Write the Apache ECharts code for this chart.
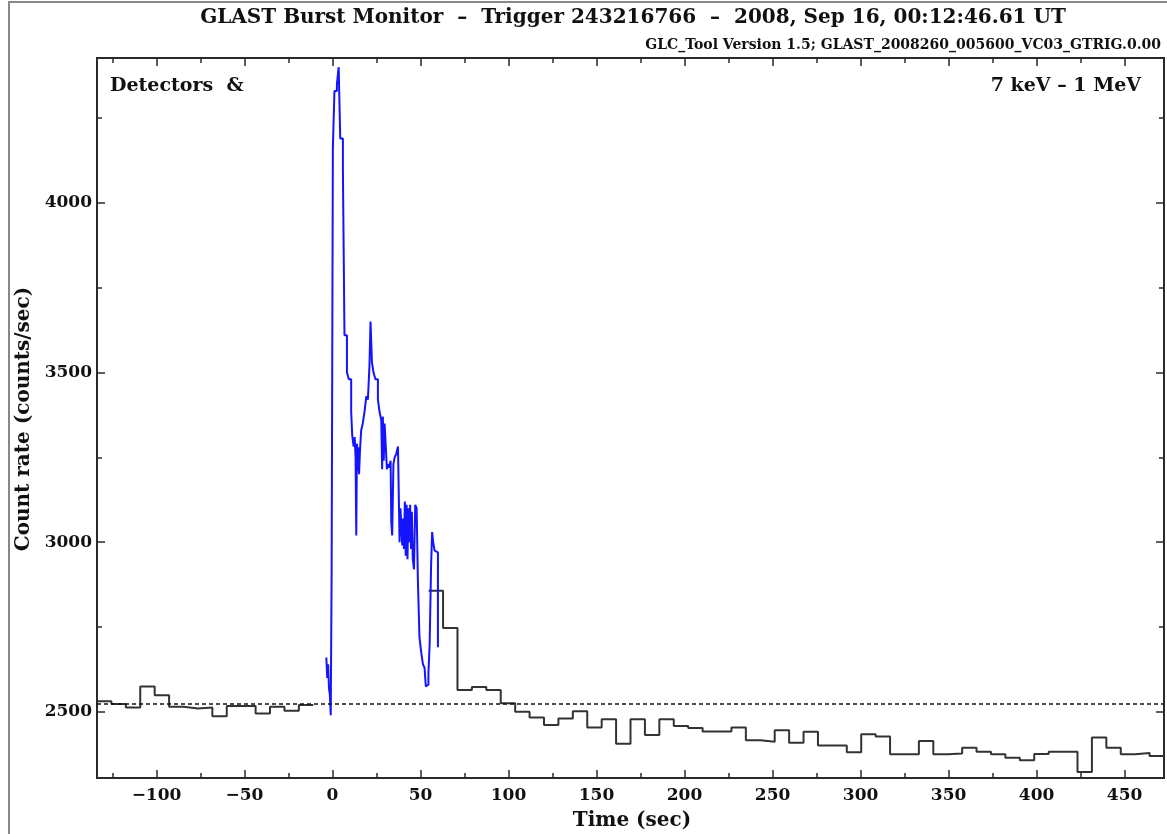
<!DOCTYPE html>
<html>
<head>
<meta charset="utf-8">
<script src="https://cdn.jsdelivr.net/npm/echarts@6/dist/echarts.min.js"></script>
<style>
html,body{margin:0;padding:0;background:#fff;}
#chart{width:1167px;height:834px;}
</style>
</head>
<body>
<div id="chart"></div>
<script>
// ---------------- data ----------------
const titleText = 'GLAST Burst Monitor  \u2013  Trigger 243216766  \u2013  2008, Sep 16, 00:12:46.61 UT';
const subtitleText = 'GLC_Tool Version 1.5; GLAST_2008260_005600_VC03_GTRIG.0.00';
const detectorsText = 'Detectors  &';
const energyText = '7 keV \u2013 1 MeV';
const xAxisName = 'Time (sec)';
const yAxisName = 'Count rate (counts/sec)';

const xMin = -133.8, xMax = 472.4;
const yMin = 2305, yMax = 4427;
const xMajorTicks = [-100, -50, 0, 50, 100, 150, 200, 250, 300, 350, 400, 450];
const xMinorTicks = [-125, -75, -25, 25, 75, 125, 175, 225, 275, 325, 375, 425];
const yMajorTicks = [2500, 3000, 3500, 4000];
const yMinorTicks = [2750, 3250, 3750, 4250];

const backgroundLevel = 2523;

// background-binned histogram (bin edges start / width)
const binStart = -133.8;
const binWidth = 8.192;
const preBurstRates = [2531, 2523, 2513, 2575, 2549, 2515, 2510, 2513, 2487, 2517, 2517, 2495, 2515, 2503, 2520];
const postBurstFirstBin = 23;
const postBurstRates = [2857, 2747, 2564, 2573, 2564, 2525, 2500, 2483, 2461, 2480, 2502, 2454, 2478, 2406, 2478, 2432,
  2478, 2458, 2452, 2442, 2442, 2454, 2416, 2412, 2446, 2409, 2441, 2401, 2401, 2381, 2434, 2427, 2375, 2375, 2414,
  2375, 2377, 2394, 2382, 2375, 2365, 2357, 2376, 2382, 2382, 2323, 2424, 2394, 2375, 2379, 2370];

// fine-resolution burst light curve (blue)
const burstTimes = [-3.5, -3.0, -2.5, -2.0, -1.5, -1.0, -0.5, 0.2, 1.1, 2.5, 3.5, 4.4, 5.9, 6.8, 8.2, 9.3, 10.6, 11.2, 12.0,
  12.6, 13.1, 13.5, 13.9, 14.3, 14.7, 15.1, 15.6, 16.3, 17.2, 18.2, 19.2, 20.1, 21.0, 21.6, 22.4, 23.3, 24.4, 25.8, 26.7,
  27.7, 28.2, 28.6, 29.1, 29.6, 30.1, 30.9, 31.4, 32.2, 33.0, 33.4, 33.9, 34.6, 35.3, 36.2, 37.2, 38.1, 38.6, 39.1, 39.6,
  40.1, 40.6, 41.1, 41.6, 42.1, 42.6, 43.1, 43.6, 44.1, 44.6, 45.1, 45.6, 46.3, 47.0, 47.8, 48.5, 49.4, 50.4, 51.4, 52.3,
  53.0, 53.8, 54.5, 55.2, 56.0, 56.6, 57.2, 58.0, 58.9, 59.9, 60.3];
const burstRates = [2660, 2600, 2640, 2570, 2550, 2490, 2910, 4160, 4330, 4350, 4400, 4190, 4100, 3610, 3500, 3480, 3385, 3315, 3282,
  3310, 3250, 3020, 3290, 3210, 3280, 3200, 3270, 3330, 3350, 3385, 3430, 3420, 3520, 3650, 3530, 3500, 3480, 3420, 3385,
  3360, 3215, 3370, 3240, 3350, 3300, 3215, 3230, 3220, 3240, 3060, 3020, 3230, 3250, 3260, 3282, 3000, 3100, 3050, 2990,
  3070, 2980, 3120, 2960, 3110, 2950, 3100, 3000, 3110, 2980, 3090, 2950, 2920, 3110, 3100, 2890, 2720, 2675, 2640, 2630,
  2575, 2580, 2615, 2700, 2930, 3030, 3000, 2975, 2970, 2690, 2690];

// ---------------- build series data ----------------
function histogram(firstBin, rates) {
  const pts = rates.map((r, i) => [binStart + (firstBin + i) * binWidth, r]);
  pts.push([binStart + (firstBin + rates.length) * binWidth, rates[rates.length - 1]]);
  return pts;
}
const preData = histogram(0, preBurstRates);
const postData = histogram(postBurstFirstBin, postBurstRates);
const burstData = burstTimes.map((t, i) => [t, burstRates[i]]);

const FONT = '"DejaVu Serif", "Liberation Serif", serif';
const AX = '#2a2a2a';
const fmtPlain = v => String(v).replace('-', '\u2212');

function xAx(position, values, len, labels) {
  return {
    type: 'value', position: position, min: xMin, max: xMax,
    axisLine: {show: true, onZero: false, lineStyle: {color: AX, width: 2}},
    axisTick: {show: true, inside: true, length: len, customValues: values, lineStyle: {color: AX, width: 1.5}},
    axisLabel: labels ? {show: true, customValues: values, formatter: fmtPlain, color: '#111',
      fontFamily: FONT, fontWeight: 'bold', fontSize: 17, margin: 9} : {show: false},
    splitLine: {show: false}
  };
}
function yAx(position, values, len, labels) {
  return {
    type: 'value', position: position, min: yMin, max: yMax,
    axisLine: {show: true, onZero: false, lineStyle: {color: AX, width: 2}},
    axisTick: {show: true, inside: true, length: len, customValues: values, lineStyle: {color: AX, width: 1.5}},
    axisLabel: labels ? {show: true, customValues: values, formatter: fmtPlain, color: '#111',
      fontFamily: FONT, fontWeight: 'bold', fontSize: 17, margin: 5} : {show: false},
    splitLine: {show: false}
  };
}

const chart = echarts.init(document.getElementById('chart'), null, {renderer: 'canvas'});
chart.setOption({
  animation: false,
  backgroundColor: '#fff',
  grid: {left: 97, right: 3, top: 58, bottom: 56, containLabel: false},
  xAxis: [
    xAx('bottom', xMajorTicks, 8, true),
    xAx('bottom', xMinorTicks, 5, false),
    xAx('top', xMajorTicks, 8, false),
    xAx('top', xMinorTicks, 5, false)
  ],
  yAxis: [
    yAx('left', yMajorTicks, 8, true),
    yAx('left', yMinorTicks, 5, false),
    yAx('right', yMajorTicks, 8, false),
    yAx('right', yMinorTicks, 5, false)
  ],
  series: [
    {
      type: 'line', step: 'end', data: preData, showSymbol: false, clip: true,
      lineStyle: {color: '#333', width: 2}, itemStyle: {color: '#333'},
      markLine: {
        silent: true, symbol: 'none', label: {show: false},
        lineStyle: {color: '#111', width: 1.5, type: [4, 3]},
        data: [{yAxis: backgroundLevel}]
      }
    },
    {
      type: 'line', step: 'end', data: postData, showSymbol: false, clip: true,
      lineStyle: {color: '#333', width: 2}, itemStyle: {color: '#333'}
    },
    {
      type: 'line', step: 'end', data: burstData, showSymbol: false, clip: true,
      lineStyle: {color: '#1414ff', width: 2}, itemStyle: {color: '#1414ff'}
    }
  ],
  graphic: [
    {type: 'rect', shape: {x: 9, y: 2, width: 1170, height: 840}, style: {fill: 'none', stroke: '#888', lineWidth: 2}, silent: true},
    {type: 'text', x: 633, y: 18, style: {text: titleText, font: 'bold 20px ' + FONT, fill: '#111', textAlign: 'center', textVerticalAlign: 'middle'}},
    {type: 'text', x: 1161, y: 45, style: {text: subtitleText, font: 'bold 14px ' + FONT, fill: '#111', textAlign: 'right', textVerticalAlign: 'middle'}},
    {type: 'text', x: 110, y: 86, style: {text: detectorsText, font: 'bold 19px ' + FONT, fill: '#111', textAlign: 'left', textVerticalAlign: 'middle'}},
    {type: 'text', x: 1141, y: 86, style: {text: energyText, font: 'bold 19px ' + FONT, fill: '#111', textAlign: 'right', textVerticalAlign: 'middle'}},
    {type: 'text', x: 632, y: 821, style: {text: xAxisName, font: 'bold 20px ' + FONT, fill: '#111', textAlign: 'center', textVerticalAlign: 'middle'}},
    {type: 'text', x: 24, y: 419, rotation: Math.PI / 2, style: {text: yAxisName, font: 'bold 20px ' + FONT, fill: '#111', textAlign: 'center', textVerticalAlign: 'middle'}}
  ]
});
</script>
</body>
</html>
